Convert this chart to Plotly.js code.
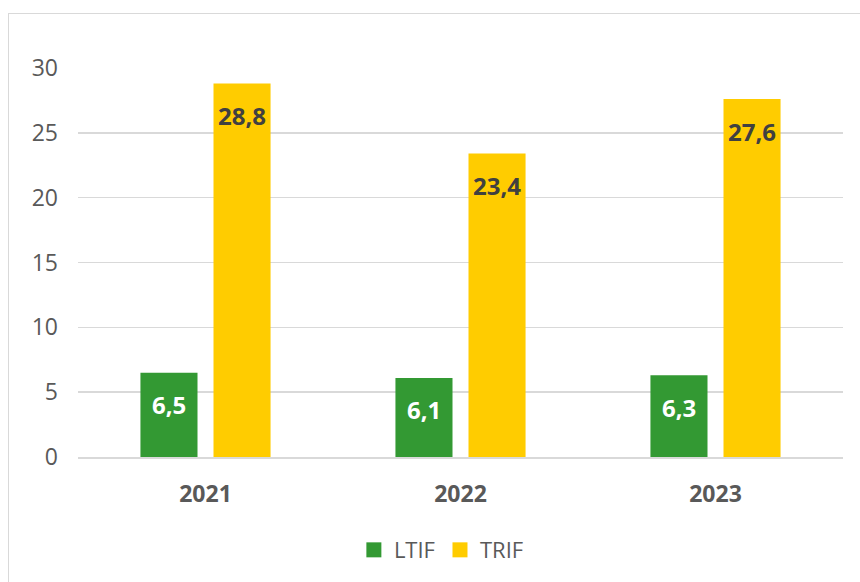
<!DOCTYPE html>
<html>
<head>
<meta charset="utf-8">
<script src="https://cdn.plot.ly/plotly-3.0.1.min.js"></script>
<style>
html,body{margin:0;padding:0;background:#fff;overflow:hidden;}
#frame{position:absolute;left:8px;top:13px;width:900px;height:620px;border:1px solid #D9D9D9;box-sizing:border-box;}
#chart{position:absolute;left:0;top:0;width:860px;height:582px;}
</style>
</head>
<body>
<div id="frame"></div>
<div id="chart"></div>
<script>
const categories = ['2021', '2022', '2023'];
const ltif = [6.5, 6.1, 6.3];
const trif = [28.8, 23.4, 27.6];
const seriesNames = ['LTIF', 'TRIF'];
const yTicks = [0, 5, 10, 15, 20, 25, 30];

const GREEN = '#339933';
const YELLOW = '#FFCC00';
const FONT = '"Open Sans", "Noto Sans", sans-serif';

const traces = [
  {type: 'bar', name: seriesNames[0], x: categories, y: ltif, marker: {color: GREEN}, hoverinfo: 'none', textposition: 'none', showlegend: false},
  {type: 'bar', name: seriesNames[1], x: categories, y: trif, marker: {color: YELLOW}, hoverinfo: 'none', textposition: 'none', showlegend: false},
  // legend-only entries (larger square swatches)
  {type: 'scatter', mode: 'markers', name: seriesNames[0], x: [null], y: [null], marker: {symbol: 'square', size: 15, color: GREEN}, hoverinfo: 'none'},
  {type: 'scatter', mode: 'markers', name: seriesNames[1], x: [null], y: [null], marker: {symbol: 'square', size: 15, color: YELLOW}, hoverinfo: 'none'}
];

function fmt(v){ return v.toFixed(1).replace('.', ','); }

const annotations = [];
categories.forEach((c, i) => {
  annotations.push({x: i, y: ltif[i], xref: 'x', yref: 'y', text: '<b>' + fmt(ltif[i]) + '</b>', showarrow: false,
    xshift: -36.5, yanchor: 'middle', yshift: -32, font: {family: FONT, size: 24, color: '#FFFFFF'}});
  annotations.push({x: i, y: trif[i], xref: 'x', yref: 'y', text: '<b>' + fmt(trif[i]) + '</b>', showarrow: false,
    xshift: 36.5, yanchor: 'middle', yshift: -32, font: {family: FONT, size: 24, color: '#404040'}});
});

const layout = {
  width: 860, height: 582,
  margin: {l: 78, r: 17, t: 68, b: 124},
  paper_bgcolor: 'rgba(0,0,0,0)',
  plot_bgcolor: 'rgba(0,0,0,0)',
  barmode: 'group',
  bargap: 0.427,
  bargroupgap: 0.219,
  separators: ',.',
  font: {family: FONT, color: '#595959'},
  xaxis: {
    type: 'category',
    range: [-0.5, 2.5],
    autorange: false,
    tickfont: {family: FONT, size: 23, color: '#595959', weight: 'bold'},
    showline: true, linecolor: '#D9D9D9', linewidth: 2,
    ticks: '', showgrid: false, zeroline: false,
    ticklabelstandoff: 15
  },
  yaxis: {
    range: [0, 30],
    autorange: false,
    tickvals: yTicks,
    ticktext: yTicks.map(String),
    tickfont: {family: FONT, size: 23, color: '#595959'},
    showgrid: true, gridcolor: '#D9D9D9', gridwidth: 1.5,
    zeroline: false, showline: false, ticks: '',
    ticklabelstandoff: 19
  },
  legend: {
    orientation: 'h', x: 0.475, xanchor: 'center', y: -0.236, yanchor: 'middle',
    font: {family: FONT, size: 22, color: '#595959'},
    itemwidth: 30, tracegroupgap: 0
  },
  annotations: annotations,
  showlegend: true
};

Plotly.newPlot('chart', traces, layout, {staticPlot: true, displayModeBar: false});
</script>
</body>
</html>
